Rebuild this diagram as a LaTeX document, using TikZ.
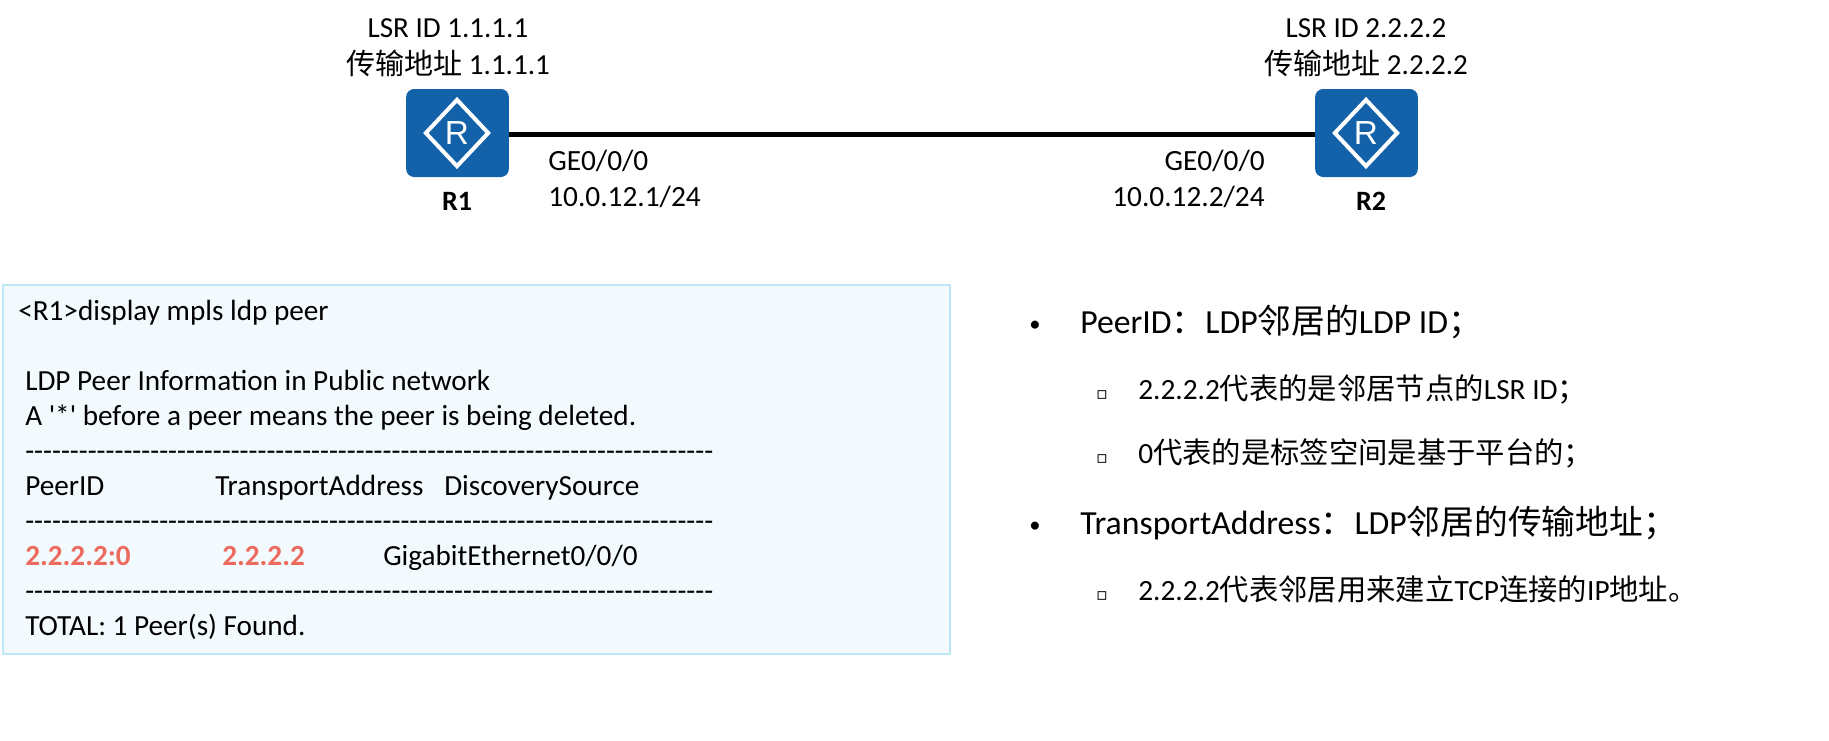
\documentclass[tikz,border=0pt]{standalone}
\usepackage{fontspec}
\usetikzlibrary{shapes.geometric}
\newfontfamily\cali{Carlito}
\newfontfamily\cjk{Noto Sans CJK SC}
\newfontfamily\arial{Liberation Sans}
\newfontfamily\dejavu{DejaVu Sans}
\newcommand{\zh}[1]{{\cjk #1}}
\definecolor{routerblue}{HTML}{1261A9}
\definecolor{cliborder}{HTML}{BDE7F7}
\definecolor{clifill}{HTML}{F3FAFE}
\definecolor{peerred}{HTML}{EC6A5E}
\tikzstyle{router}=[rectangle, fill=routerblue, rounded corners=6pt, inner sep=0pt,
minimum width=77pt, minimum height=66pt]
\tikzstyle{badge}=[diamond, draw=white, line width=3pt, inner sep=0pt,
minimum width=48pt, minimum height=51pt, text=white, font=\arial\fontsize{25}{25}\selectfont]
\tikzstyle{hostid}=[inner sep=0pt, align=center, font=\cali\fontsize{21.8}{27.5}\selectfont]
\tikzstyle{portinfo}=[inner sep=0pt, font=\cali\fontsize{22}{27}\selectfont]
\tikzstyle{hostname}=[inner sep=0pt, font=\cali\bfseries\fontsize{21}{25}\selectfont]
\tikzstyle{cliline}=[inner sep=0pt, anchor=base west, font=\cali\fontsize{21.9}{26}\selectfont]
\tikzstyle{peerval}=[cliline, text=peerred, font=\cali\bfseries\fontsize{21.9}{26}\selectfont]
\tikzstyle{topic}=[inner sep=0pt, anchor=base west, font=\cali\fontsize{25.3}{30}\selectfont]
\tikzstyle{detail}=[inner sep=0pt, anchor=base west, font=\cali\fontsize{22}{26}\selectfont]
\tikzstyle{dotmark}=[inner sep=0pt, anchor=base, font=\cali\fontsize{17}{20}\selectfont]
\tikzstyle{squaremark}=[inner sep=0pt, anchor=base, font=\dejavu\fontsize{13}{13}\selectfont]
\begin{document}
\begin{tikzpicture}[x=0.75pt,y=-0.75pt]
\useasboundingbox (0,0) rectangle (1829,740);
% routers
\node[router](r1)at (457.5,133){};
\node[router](r2)at (1366.5,133){};
\node[badge](badge1)at (457,133){R};
\node[badge](badge2)at (1366,133){R};
\draw [line width=3.8pt]([yshift=-1pt]r1.east) -- ([yshift=-1pt]r2.west);
\node[hostid](id1)at (448,48){LSR ID 1.1.1.1\\\zh{传输地址} 1.1.1.1};
\node[hostid](id2)at (1366,48){LSR ID 2.2.2.2\\\zh{传输地址} 2.2.2.2};
\node[hostname](name1)at (457,201.5){R1};
\node[hostname](name2)at (1371,201.5){R2};
\node[portinfo,anchor=base west](if1)at (548,170){GE0/0/0};
\node[portinfo,anchor=base west](ip1)at (548,206){10.0.12.1/24};
\node[portinfo,anchor=base east](if2)at (1265,170){GE0/0/0};
\node[portinfo,anchor=base east](ip2)at (1265,206){10.0.12.2/24};
% console
\node[rectangle, draw=cliborder, fill=clifill, line width=1.2pt, inner sep=0pt,
minimum width=710.5pt, minimum height=276.75pt, anchor=north west](cli)at (2,284){};
\node[cliline](line1)at (18,320){<R1>display mpls ldp peer};
\node[cliline](line2)at (25,390){LDP Peer Information in Public network};
\node[cliline](line3)at (25,425){A '*' before a peer means the peer is being deleted.};
\node[cliline](dash1)at (25,460){-----------------------------------------------------------------------------};
\node[cliline](head1)at (25,495){PeerID};
\node[cliline](head2)at (215,495){TransportAddress};
\node[cliline](head3)at (444,495){DiscoverySource};
\node[cliline](dash2)at (25,530){-----------------------------------------------------------------------------};
\node[peerval](val1)at (25,565){2.2.2.2:0};
\node[peerval](val2)at (222,565){2.2.2.2};
\node[cliline](val3)at (383,565){GigabitEthernet0/0/0};
\node[cliline](dash3)at (25,600){-----------------------------------------------------------------------------};
\node[cliline](total)at (25,635){TOTAL: 1 Peer(s) Found.};
% notes
\node[dotmark](dot1)at (1035,331){•};
\node[topic](note1)at (1080,333){PeerID\zh{：}LDP\zh{邻居的}LDP ID\zh{；}};
\node[squaremark](sq1)at (1102,399){▫};
\node[detail](note2)at (1138,399){2.2.2.2\zh{代表的是邻居节点的}LSR ID\zh{；}};
\node[squaremark](sq2)at (1102,463){▫};
\node[detail](note3)at (1138,463){0\zh{代表的是标签空间是基于平台的；}};
\node[dotmark](dot2)at (1035,532){•};
\node[topic](note4)at (1080,534){TransportAddress\zh{：}LDP\zh{邻居的传输地址；}};
\node[squaremark](sq3)at (1102,600){▫};
\node[detail](note5)at (1138,600){2.2.2.2\zh{代表邻居用来建立}TCP\zh{连接的}IP\zh{地址。}};
\end{tikzpicture}
\end{document}
